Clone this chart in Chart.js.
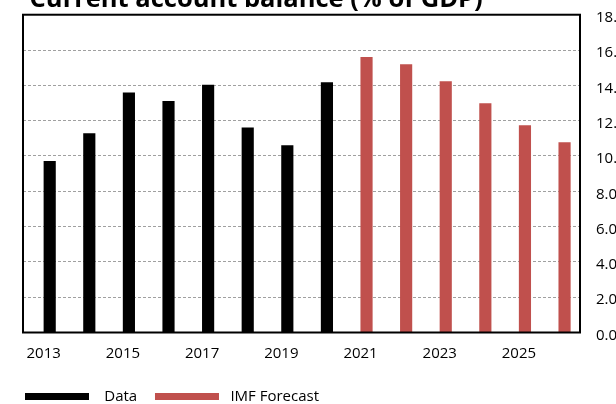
<!DOCTYPE html>
<html>
<head>
<meta charset="utf-8">
<script src="https://cdn.jsdelivr.net/npm/chart.js@4.4.0/dist/chart.umd.min.js"></script>
<style>
  html, body { margin: 0; padding: 0; background: #fff; }
  body { width: 616px; height: 404px; overflow: hidden; position: relative; }
  #wrap { position: absolute; left: 0; top: -14px; width: 640px; height: 428.5px; }
</style>
</head>
<body>
<div id="wrap"><canvas id="chart" width="640" height="428"></canvas></div>
<script>
// Current account balance, % of GDP
const dataYears = [2013, 2014, 2015, 2016, 2017, 2018, 2019, 2020];
const dataValues = [9.69, 11.27, 13.58, 13.09, 14.01, 11.59, 10.59, 14.16];
const forecastYears = [2021, 2022, 2023, 2024, 2025, 2026];
const forecastValues = [15.58, 15.18, 14.22, 12.97, 11.72, 10.76];
const tickYears = [2013, 2015, 2017, 2019, 2021, 2023, 2025];
const seriesNames = ["Data", "IMF Forecast"];

const labelFont = { family: "Open Sans", size: 15 };

// black box round the plot area
const frame = {
    id: "frame",
    afterDatasetsDraw(chart) {
        const { ctx, chartArea: a } = chart;
        ctx.save();
        ctx.strokeStyle = "#000";
        ctx.lineWidth = 2;
        ctx.strokeRect(a.left, a.top, a.right - a.left, a.bottom - a.top);
        ctx.restore();
    }
};

function points(xs, ys) {
    return xs.map((x, i) => ({ x: x, y: ys[i] }));
}

new Chart(document.getElementById("chart"), {
    type: "bar",
    data: {
        datasets: [{
            label: seriesNames[0],
            data: points(dataYears, dataValues),
            backgroundColor: "#000000",
            borderWidth: 0,
            barThickness: 11.5,
            grouped: false
        }, {
            label: seriesNames[1],
            data: points(forecastYears, forecastValues),
            backgroundColor: "#c0504d",
            borderWidth: 0,
            barThickness: 11.5,
            grouped: false
        }]
    },
    options: {
        responsive: false,
        animation: false,
        devicePixelRatio: 1,
        layout: { padding: { left: 15, right: 0, top: 0, bottom: 0 } },
        plugins: {
            title: {
                display: true,
                text: " Current account balance (% of GDP)",
                align: "start",
                fullSize: false,
                color: "#000",
                font: { family: "Open Sans", size: 25.5, weight: "bold", lineHeight: 0.95 },
                padding: { top: 1.5, bottom: 3 }
            },
            legend: {
                position: "bottom",
                align: "start",
                labels: {
                    boxWidth: 64,
                    boxHeight: 7,
                    padding: 10,
                    color: "#000",
                    font: labelFont,
                    generateLabels: chart => Chart.defaults.plugins.legend.labels.generateLabels(chart)
                        .map((item, i) => ({ ...item, text: i === 0 ? "  " + seriesNames[0] + "  " : " " + seriesNames[1] }))
                }
            },
            tooltip: { enabled: false }
        },
        scales: {
            x: {
                type: "linear",
                min: 2012.326,
                max: 2026.39,
                offset: false,
                grid: { display: false },
                border: { display: false },
                afterBuildTicks: s => { s.ticks = tickYears.map(v => ({ value: v })); },
                afterFit: s => { s.height = 46.5; },
                ticks: {
                    callback: v => String(v),
                    labelOffset: -6,
                    padding: 4,
                    color: "#000",
                    font: labelFont
                }
            },
            y: {
                position: "right",
                min: 0,
                max: 18,
                grid: { color: "#a0a0a0", lineWidth: 1, drawTicks: false },
                border: { display: false, dash: [3, 2] },
                ticks: {
                    stepSize: 2,
                    callback: v => v.toFixed(1),
                    padding: 16,
                    labelOffset: 3,
                    color: "#000",
                    font: labelFont
                },
                afterFit: s => { s.width = 60; }
            },
            yL: {
                position: "left",
                min: 0,
                max: 18,
                grid: { display: false },
                border: { display: false },
                ticks: { display: false },
                afterFit: s => { s.width = 8; }
            }
        }
    },
    plugins: [frame]
});
</script>
</body>
</html>
